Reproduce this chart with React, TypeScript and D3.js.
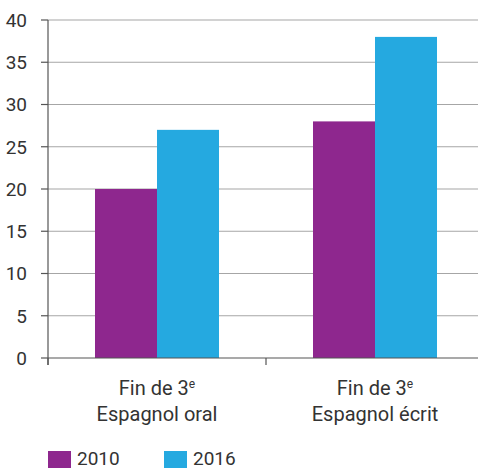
import React from "react";
import * as d3 from "d3";

const categories = ["Espagnol oral", "Espagnol écrit"];
const series = ["2010", "2016"];
const values2010 = [20, 28];
const values2016 = [27, 38];
const yTicks = [0, 5, 10, 15, 20, 25, 30, 35, 40];
const colors = ["#8e278e", "#25a9e0"];

const W = 478;
const H = 468;
const FONT = "Roboto, 'DejaVu Sans', sans-serif";

export default function App() {
  const left = 48;
  const right = 484;
  const y = d3.scaleLinear().domain([0, 40]).range([358, 20]);
  const x0 = d3.scaleBand<string>().domain(categories).range([left, right]).paddingInner(0).paddingOuter(0);
  const x1 = d3.scaleBand<string>().domain(series).range([0, x0.bandwidth()]).paddingInner(0).paddingOuter(0.758);
  const data = [values2010, values2016];
  const textColor = "#333333";

  return (
    <svg width={W} height={H} style={{ position: "absolute", left: 0, top: 0 }} fontFamily={FONT}>
      {yTicks.map((t) => (
        <g key={t}>
          {t > 0 && (
            <line x1={left} x2={W} y1={y(t)} y2={y(t)} stroke="#a6a6a6" strokeWidth={1.2} />
          )}
          <line x1={left - 7} x2={left} y1={y(t)} y2={y(t)} stroke="#555" strokeWidth={1.2} />
          <text x={27} y={y(t)} dy="0.36em" textAnchor="end" fontSize={19} fill={textColor}>
            {t}
          </text>
        </g>
      ))}
      {categories.map((c, ci) =>
        series.map((s, si) => {
          const v = data[si][ci];
          return (
            <rect
              key={c + s}
              x={(x0(c) as number) + (x1(s) as number)}
              y={y(v)}
              width={x1.bandwidth()}
              height={y(0) - y(v)}
              fill={colors[si]}
            />
          );
        })
      )}
      <line x1={left} x2={left} y1={y(40)} y2={y(0) + 7} stroke="#555" strokeWidth={1.2} />
      <line x1={left} x2={W} y1={y(0)} y2={y(0)} stroke="#555" strokeWidth={1.2} />
      {categories.map((c) => (
        <line key={"t" + c} x1={x0(c) as number} x2={x0(c) as number} y1={y(0)} y2={y(0) + 7} stroke="#555" strokeWidth={1.2} />
      ))}
      {categories.map((c) => {
        const cx = (x0(c) as number) + x0.bandwidth() / 2;
        return (
          <g key={"l" + c} fill={textColor} fontSize={20}>
            <text x={cx} y={395} textAnchor="middle">
              Fin de 3<tspan fontSize={12} dy={-7}>e</tspan>
            </text>
            <text x={cx} y={421} textAnchor="middle">
              {c}
            </text>
          </g>
        );
      })}
      {series.map((s, i) => (
        <g key={"lg" + s}>
          <rect x={48 + i * 116} y={451} width={23} height={17} fill={colors[i]} />
          <text x={77 + i * 116} y={464.5} fontSize={19} fill={textColor}>
            {s}
          </text>
        </g>
      ))}
    </svg>
  );
}
